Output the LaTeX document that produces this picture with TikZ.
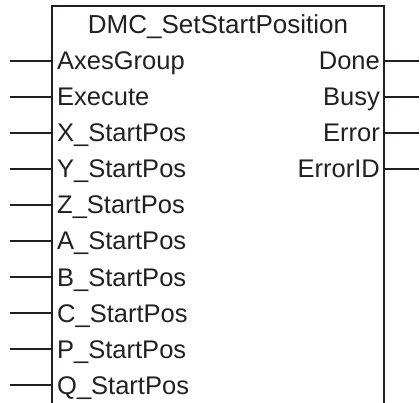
\documentclass[tikz,border=0pt]{standalone}
\usepackage{fontspec}
\setmainfont{Liberation Sans}
\definecolor{ink}{HTML}{231F20}
\begin{document}
\begin{tikzpicture}[x=1pt,y=-1pt,
  wire/.style={draw=ink,line width=1.2pt},
  inlbl/.style={anchor=base west,inner sep=0pt,text=ink,font=\fontsize{25.5}{25}\selectfont},
  outlbl/.style={anchor=base east,inner sep=0pt,text=ink,font=\fontsize{25.5}{25}\selectfont},
  ttl/.style={anchor=base,inner sep=0pt,text=ink,font=\fontsize{26}{26}\selectfont}]
\useasboundingbox (0,0) rectangle (420,403);
% box (open at bottom)
\coordinate (bl) at (52,404);
\coordinate (tl) at (52,6);
\coordinate (tr) at (384,6);
\coordinate (br) at (384,404);
\draw[wire] (bl) -- (tl) -- (tr) -- (br);
\node[ttl] (title) at (218,34) {DMC\_SetStartPosition};
% inputs
\foreach \n/\t [count=\i from 0] in {ag/AxesGroup,ex/Execute,xs/X\_StartPos,ys/Y\_StartPos,zs/Z\_StartPos,as/A\_StartPos,bs/B\_StartPos,cs/C\_StartPos,ps/P\_StartPos,qs/Q\_StartPos}{
  \pgfmathsetmacro{\yy}{61+36*\i}
  \coordinate (\n-in) at (10,\yy);
  \coordinate (\n-pin) at (52,\yy);
  \node[inlbl] (\n) at (57,\yy+9) {\t};
  \draw[wire] (\n-in) -- (\n-pin);
}
% outputs
\foreach \n/\t [count=\i from 0] in {dn/Done,bz/Busy,er/Error,eid/ErrorID}{
  \pgfmathsetmacro{\yy}{61+36*\i}
  \coordinate (\n-pin) at (384,\yy);
  \coordinate (\n-out) at (419,\yy);
  \node[outlbl] (\n) at (380,\yy+9) {\t};
  \draw[wire] (\n-pin) -- (\n-out);
}
\end{tikzpicture}
\end{document}
